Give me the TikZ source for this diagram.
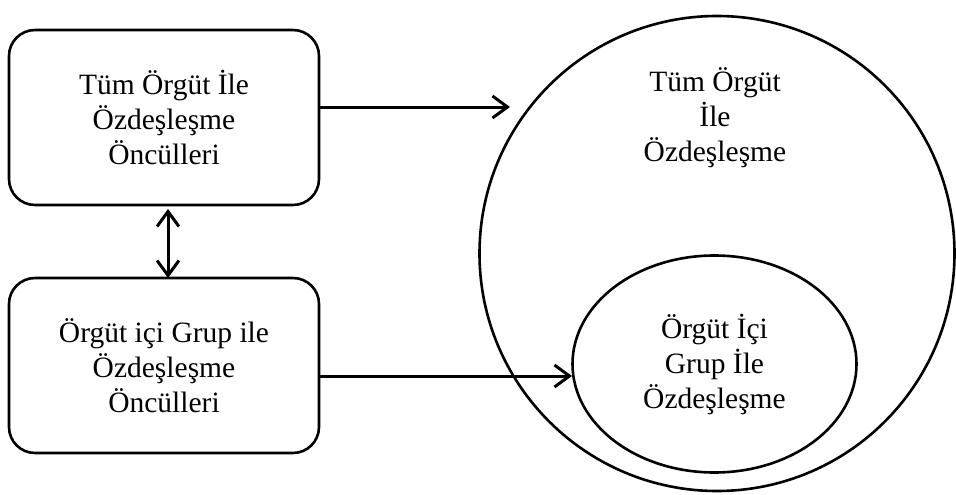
\documentclass[tikz,border=0pt]{standalone}
\usepackage{fontspec}
\setmainfont{Liberation Serif}
\usetikzlibrary{arrows.meta,shapes.geometric}
\begin{document}
\begin{tikzpicture}[x=1pt,y=-1pt,
  txt/.style={align=center, font=\fontsize{29.5pt}{35pt}\selectfont},
  box/.style={draw, line width=2.6pt, rounded corners=26pt, minimum width=310pt,
    minimum height=175pt, inner sep=0pt, txt},
  ring/.style={draw, line width=2.6pt, inner sep=0pt},
  arr/.style={line width=3pt, -{Straight Barb[length=15pt,width=22pt]}},
  darr/.style={line width=3pt, {Straight Barb[length=15pt,width=22pt]}-{Straight Barb[length=15pt,width=22pt]}}]
\useasboundingbox (0,0) rectangle (956,495);

% antecedent boxes
\node[box] (whole-ante) at (164,117.5) {Tüm Örgüt İle\\Özdeşleşme\\Öncülleri};
\node[box] (group-ante) at (164,365.5) {Örgüt içi Grup ile\\Özdeşleşme\\Öncülleri};

% nested identification circles
\node[ring, circle, minimum size=475pt] (whole) at (717,253.5) {};
\node[txt, inner sep=0pt] (whole-txt) at (715,118) {Tüm Örgüt\\İle\\Özdeşleşme};
\node[ring, ellipse, minimum width=284pt, minimum height=217pt, txt] (group) at (714.5,364)
  {Örgüt İçi\\Grup İle\\Özdeşleşme};

% connectors
\coordinate (t1) at (510,107);
\coordinate (t2) at (572,376);
\coordinate (v1) at (168,209);
\coordinate (v2) at (168,278);
\draw[arr] (whole-ante.east |- t1) -- (t1);
\draw[arr] (group-ante.east |- t2) -- (t2);
\draw[darr] (v1) -- (v2);
\end{tikzpicture}
\end{document}
